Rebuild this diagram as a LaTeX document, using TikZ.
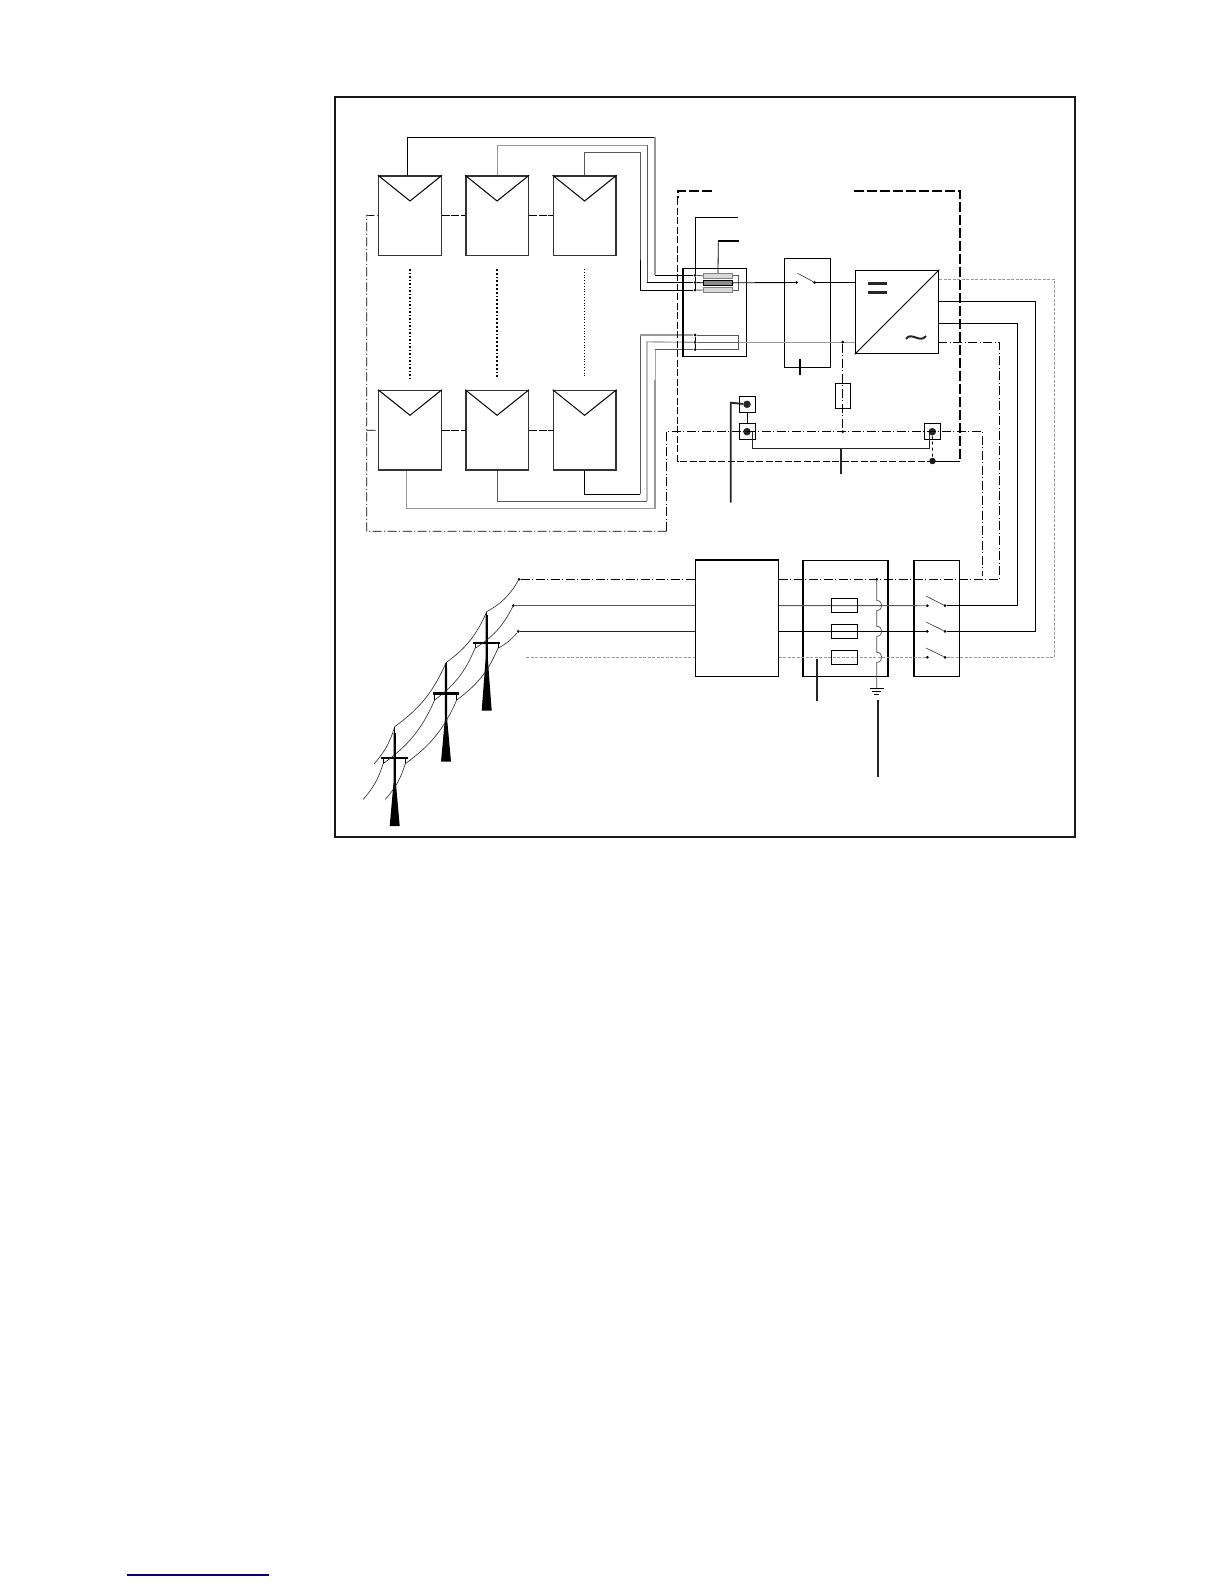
\documentclass[tikz,border=0pt]{standalone}
\usepackage{amsmath}
\usetikzlibrary{shapes, arrows, decorations.pathmorphing}
\tikzset{
  panel/.style={draw=black!80, line width=1.4pt, inner sep=0, minimum width=62.5pt, minimum height=79.6pt},
  tbox/.style={draw, line width=0.9pt, inner sep=0},
  fusebox/.style={draw=black!50, fill=black!15, line width=0.9pt, inner sep=0, minimum width=29.4pt, minimum height=5pt},
  gridfuse/.style={draw, line width=0.9pt, inner sep=0, minimum width=26.4pt, minimum height=14.4pt},
  term/.style={draw, line width=0.6pt, inner sep=0, minimum size=16.4pt},
  dot/.style={circle, fill, inner sep=0, minimum size=3pt},
  bigdot/.style={circle, fill=black!85, inner sep=0, minimum size=7.5pt},
  wire/.style={line width=0.9pt},
  greywire/.style={line width=1.1pt, black!40},
  midwire/.style={line width=0.9pt, black!65},
  ctrl/.style={line width=0.7pt, dash pattern=on 9pt off 2.5pt on 1pt off 2.5pt},
  lead/.style={line width=1.8pt, black!85},
  hair/.style={line width=0.6pt, black!40, dash pattern=on 3pt off 1.5pt},
  oh/.style={line width=0.6pt, black!85}
}
\begin{document}
\begin{tikzpicture}[x=1pt, y=-1pt]
\useasboundingbox (0,0) rectangle (1224,1584);
\draw[line width=1.9pt, black!90] (334.7,96.7) rectangle (1075,836.7);
\draw[line width=1.1pt, blue!50!black] (127,1575) -- (269,1575);

\node[panel] (pa) at (410,215.8) {};
\node[panel] (pb) at (497.1,215.8) {};
\node[panel] (pc) at (584.6,215.8) {};
\node[panel] (pd) at (410,430.2) {};
\node[panel] (pe) at (497.1,430.2) {};
\node[panel] (pf) at (584.6,430.2) {};
\draw[line width=1pt] (pa.north west) -- (410,201) -- (pa.north east);
\draw[line width=1pt] (pb.north west) -- (497.1,201) -- (pb.north east);
\draw[line width=1pt] (pc.north west) -- (584.6,201) -- (pc.north east);
\draw[line width=1pt] (pd.north west) -- (410,415.3) -- (pd.north east);
\draw[line width=1pt] (pe.north west) -- (497.1,415.3) -- (pe.north east);
\draw[line width=1pt] (pf.north west) -- (584.6,415.3) -- (pf.north east);

\draw[line width=1.5pt, dotted] (410,269) -- (410,377.7);
\draw[line width=1.8pt, dotted] (496.7,269) -- (496.7,377.7);
\draw[line width=0.8pt, dotted] (584.3,269) -- (584.3,377.7);
\draw[line width=0.9pt, dash pattern=on 8pt off 1.5pt] (pa.east) -- (pb.west);
\draw[line width=0.9pt, dash pattern=on 8pt off 1.5pt] (pb.east) -- (pc.west);
\draw[line width=0.9pt, dash pattern=on 8pt off 1.5pt] (pd.east) -- (pe.west);
\draw[line width=0.9pt, dash pattern=on 8pt off 1.5pt] (pe.east) -- (pf.west);

\node[dot] (da) at (695,275.3) {};
\node[dot] (db) at (695,282.5) {};
\node[dot] (dc) at (695,290.2) {};
\node[dot] (dd) at (695,335) {};
\node[dot] (de) at (695,342.3) {};
\node[dot] (df) at (695,349.5) {};
\draw[line width=0.9pt] (da) -- (db) -- (dc);
\draw[line width=0.9pt] (dd) -- (de) -- (df);

\draw[wire] ([xshift=-2.7pt]pa.north) |- (655,137.3);
\draw[greywire] (655,137.3) -- (655,275.3);
\draw[wire] (655,275.3) -- (da);
\draw[greywire] (pb.north) |- (647,145.3);
\draw[midwire] (647,145.3) -- (647,282.5);
\draw[wire] (647,282.5) -- (db);
\draw[midwire] (pc.north) |- (640.3,152.7) -- (640.3,260);
\draw[wire] (640.3,260) -- (640.3,290.2) -- (dc);
\draw[greywire] ([xshift=-3.3pt]pd.south) |- (655,508.3) -- (655,380);
\draw[line width=0.9pt, black!35] (655,380) -- (655,349.5);
\draw[midwire] (655,349.5) -- (df);
\draw[midwire] (pe.south) |- (647,501);
\draw[greywire] (647,501) -- (647,341.9) -- (de);
\draw[wire] (pf.south) |- (640.3,494);
\draw[midwire] (640.3,494) -- (640.3,335);
\draw[greywire] (640.3,335) -- (dd);

\draw[line width=0.7pt, dash pattern=on 7pt off 2.5pt] (677.7,198) -- (677.7,461.3) -- (932.5,461.3);
\draw[line width=1.7pt, dash pattern=on 10pt off 3pt] (711.7,190.7) -- (677.7,190.7) -- (677.7,198);
\draw[line width=1.9pt, dash pattern=on 10pt off 3pt] (854,190.7) -- (960,190.7) -- (960,461.3);
\draw[line width=1pt] (960,461.3) -- (932.5,461.3);

\node[tbox, minimum width=62.6pt, minimum height=87.6pt] (combiner) at (715,312.5) {};
\draw[line width=1.7pt] (combiner.north west) -- (combiner.south west);
\node[fusebox] (fa) at (718,275.8) {};
\node[fusebox, draw=black, fill=black!45] (fb) at (718,282.8) {};
\node[fusebox] (fc) at (718,290) {};
\draw[midwire] (da) -- (fa.west);
\draw[midwire] (dc) -- (fc.west);
\draw[midwire] (fa.east) -- (738.7,275.8) -- (738.7,290) -- (fc.east);
\draw[wire] (db) -- (fb.west);
\draw[midwire] (dd) -- (738.7,335) -- (738.7,349.5) -- (df);
\draw[line width=0.8pt] (da) -- (695,217.3) -- (737.7,217.3);
\draw[line width=0.8pt] (fa.north) -- (718.3,241);
\draw[line width=1.7pt] (718.3,241) -- (738.7,241);

\node[tbox, line width=0.8pt, minimum width=46pt, minimum height=109pt] (dcswitch) at (807.3,312.8) {};
\node[dot] (sa) at (796.7,282.5) {};
\node[dot] (sb) at (814.7,282.5) {};
\draw[line width=0.6pt, black!80] (797.7,273.3) -- (sb);
\node[tbox, draw=black, line width=1.2pt, minimum width=83.4pt, minimum height=83.4pt] (inverter) at (897,312) {};
\draw[line width=1pt] (inverter.south west) -- (inverter.north east);
\draw[line width=3pt, black!85] (868,283.7) -- (887.3,283.7);
\draw[line width=3pt, black!85] (868,292.3) -- (887.3,292.3);
\draw[line width=2pt, black!85] (906,339) .. controls (911,331) and (920,344) .. (926,336);
\draw[wire] (fb.east) -- (sa);
\draw[wire] (sb) -- (inverter.west |- sb);
\draw[line width=1.5pt, black!40] (738.7,342.3) -- (inverter.west |- 0,342.3);
\draw[line width=0.9pt, black!60] (de) -- (738.7,342.3);
\draw[line width=1.7pt] (800,359.3) -- (800,374.7);

\node[dot] (ga) at (842.7,342.2) {};
\node[dot] (gb) at (842.7,431.7) {};
\draw[ctrl] (ga) -- (gb);
\node[draw, line width=0.6pt, inner sep=0, minimum width=14.6pt, minimum height=25pt] (arrester) at (843,395.8) {};
\draw[line width=1.5pt] (arrester.north west) -- (arrester.south west);
\draw[line width=1.5pt] (arrester.north east) -- (arrester.south east);

\node[term] (ta) at (747.5,404.5) {};
\node[term] (tb) at (747.5,431.5) {};
\node[term] (tc) at (932.5,431.5) {};
\node[bigdot] (ka) at (747,404.3) {};
\node[bigdot] (kb) at (747,431.7) {};
\node[bigdot] (kc) at (932.3,431.7) {};
\node[circle, fill=black!90, inner sep=0, minimum size=6.5pt] (kd) at (932.5,461) {};
\draw[line width=0.7pt] (ta) -- (tb);
\draw[lead] (730.7,502.7) -- (730.7,402.7) -- (ka);
\draw[line width=1.3pt, black!85] (752.7,431.7) -- (752.7,448.3) -- (929.3,448.3) -- (929.3,431.7);
\draw[lead] (840.7,448.3) -- (840.7,474);
\draw[line width=0.8pt, dashed] (kc) -- (kd);

\node[fill=white, draw, line width=0.9pt, inner sep=0, minimum width=83pt, minimum height=116.3pt] (trafo) at (736.8,618.2) {};
\draw[line width=1.5pt] (trafo.north west) -- (trafo.north east);
\node[fill=white, draw, line width=0.9pt, inner sep=0, minimum width=84.3pt, minimum height=116pt] (dist) at (845.2,618.3) {};
\draw[line width=1.6pt] (dist.north west) -- (dist.south west);
\draw[line width=1.6pt] (dist.north east) -- (dist.south east);
\node[fill=white, draw, line width=0.9pt, inner sep=0, minimum width=45.3pt, minimum height=116pt] (acswitch) at (936.7,618.3) {};
\draw[line width=1.6pt] (acswitch.north west) -- (acswitch.south west);

\node[dot] (wa) at (519,579.3) {};
\node[dot] (wb) at (513.3,605.6) {};
\node[dot] (wc) at (518.3,631.4) {};
\node[dot] (gd) at (876.7,579.3) {};
\node[dot] (ua) at (927.3,605.7) {};
\node[dot] (ub) at (945,605.7) {};
\node[dot] (uc) at (927.3,631.4) {};
\node[dot] (ud) at (945,631.4) {};
\node[dot] (ue) at (927.3,657.3) {};
\node[dot] (uf) at (945,657.3) {};
\draw[line width=0.6pt, black!80] (926,596) -- (ub);
\draw[line width=0.6pt, black!80] (926,622) -- (ud);
\draw[line width=0.6pt, black!80] (926,648) -- (uf);

\draw[ctrl, line width=0.9pt] (wa) -- (trafo.west |- wa);
\draw[midwire] (wb) -- (trafo.west |- wb);
\draw[wire, black!85] (wc) -- (trafo.west |- wc);
\draw[hair] (526,657.3) -- (trafo.west |- 0,657.3);
\draw[ctrl, line width=0.9pt] (trafo.east |- wa) -- (999.7,579.3) -- (999.7,342.7) -- (inverter.east |- 0,342.7);
\draw[ctrl] (666.7,531.3) -- (366.7,531.3) -- (366.7,215.3) -- (pa.west);
\draw[ctrl] (366.7,430.3) -- (pd.west);
\draw[ctrl] (666.7,531.3) -- (666.7,431.5) -- (982.7,431.5) -- (982.7,575.7);
\draw[midwire] (trafo.east |- wb) -- (ua);
\draw[wire] (trafo.east |- wc) -- (uc);
\draw[hair] (trafo.east |- 0,657.3) -- (ue);
\draw[wire] (ub) -- (1017.7,605.7) -- (1017.7,323.3) -- (inverter.east |- 0,323.3);
\draw[wire] (ud) -- (1035.7,631.4) -- (1035.7,301.7) -- (inverter.east |- 0,301.7);
\draw[hair] (uf) -- (1054.7,657.3) -- (1054.7,279.3) -- (inverter.east |- 0,279.3);

\node[gridfuse] (ha) at (844.5,605.5) {};
\node[gridfuse] (hb) at (844.5,631.5) {};
\node[gridfuse] (hc) at (844.5,657.5) {};
\coordinate (ea) at (876.7,688.3);
\draw[line width=0.7pt, black!70] (gd) -- (876.7,600.5) .. controls (883.5,600.5) and (883.5,610.5) .. (876.7,610.5) -- (876.7,626.3) .. controls (883.5,626.3) and (883.5,636.3) .. (876.7,636.3) -- (876.7,652.3) .. controls (883.5,652.3) and (883.5,662.3) .. (876.7,662.3) -- (ea);
\draw[line width=0.6pt] (869.7,688.3) -- (883.7,688.3);
\draw[line width=0.6pt] (872,691.7) -- (881.4,691.7);
\draw[line width=0.6pt] (874.3,694) -- (879,694);
\draw[lead] (817,659) -- (817,700.7);
\draw[lead] (878,700) -- (878,776.7);

\fill (485.5,615) -- (487.9,615) -- (487.9,660) -- (491.7,710.7) -- (481.7,710.7) -- (485.5,660) -- cycle;
\draw[line width=1.2pt] (486.7,611.7) -- (486.7,616);
\draw[line width=1.9pt] (473,642.7) -- (500,642.7);
\draw[line width=0.8pt] (475,642.7) -- (475,648.3);
\draw[line width=0.8pt] (498,642.7) -- (498,648.3);
\fill (444.8,668) -- (447.2,668) -- (447.2,720) -- (451,761.7) -- (441,761.7) -- (444.8,720) -- cycle;
\draw[line width=1.2pt] (446,662.7) -- (446,668);
\draw[line width=2.5pt] (433,693.3) -- (459,693.3);
\draw[line width=0.8pt] (434.7,693.3) -- (434.7,700);
\draw[line width=0.8pt] (456.7,693.3) -- (456.7,700);
\fill (393.5,733) -- (395.9,733) -- (395.9,783) -- (399.7,826) -- (389.7,826) -- (393.5,783) -- cycle;
\draw[line width=1.2pt] (394.7,726.7) -- (394.7,733);
\draw[line width=1.9pt] (381,757.7) -- (407.7,757.7);
\draw[line width=0.8pt] (383,757.7) -- (383,763.7);
\draw[line width=0.8pt] (405.3,757.7) -- (405.3,763.7);

\draw[oh] (wa) to[bend left=15] (486.7,611.7) to[bend left=15] (446,662.7) to[bend left=15] (394.7,726.7) to[bend left=12] (374,764);
\draw[oh] (wb) to[bend left=15] (475,648.3) to[bend left=15] (434.7,700) to[bend left=15] (383,763.7) to[bend left=12] (363.3,799.3);
\draw[oh] (wc) to[bend left=10] (498,648.3) to[bend left=15] (456.7,700) to[bend left=15] (405.3,763.7) to[bend left=12] (385.3,799.3);
\end{tikzpicture}
\end{document}
